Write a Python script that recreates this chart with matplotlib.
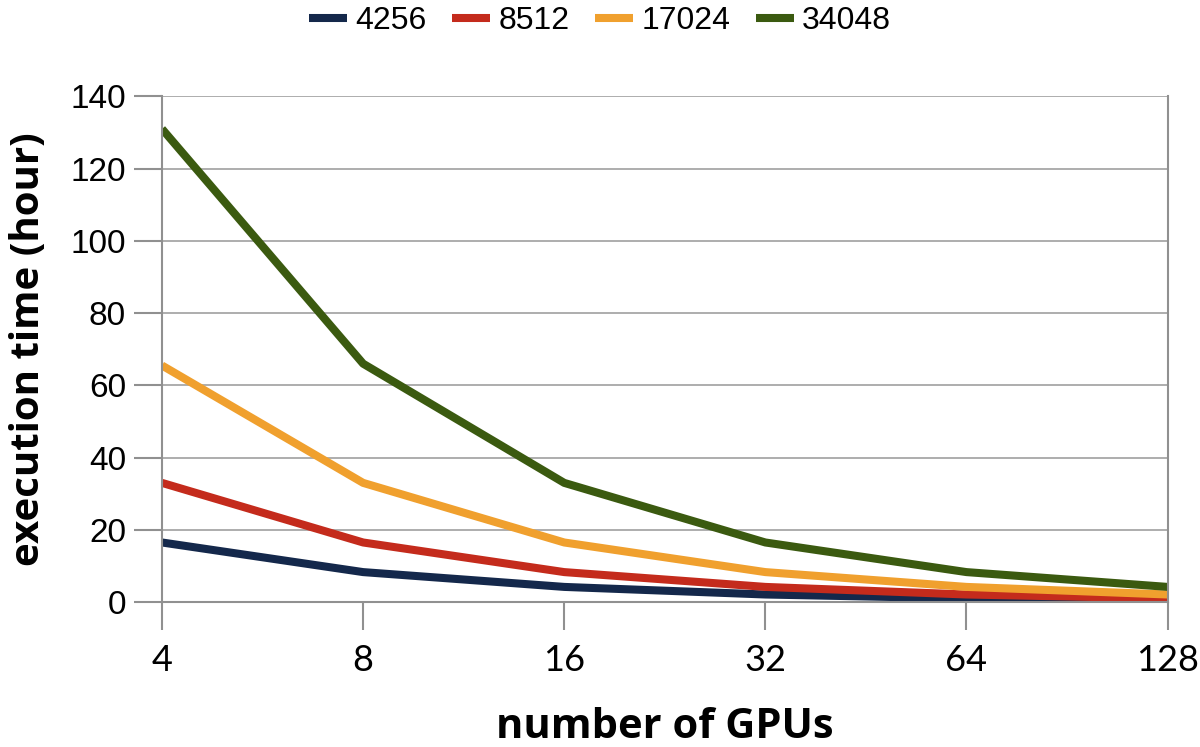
import numpy as np
import matplotlib.pyplot as plt

# number of GPUs (categorical, equally spaced)
gpus = ['4', '8', '16', '32', '64', '128']

# execution time in hours for each problem size
t_4256 = [16.5, 8.3, 4.2, 2.1, 1.0, 0.5]
t_8512 = [33.0, 16.5, 8.3, 4.2, 2.1, 1.0]
t_17024 = [65.5, 33.0, 16.5, 8.3, 4.2, 2.1]
t_34048 = [131.0, 66.0, 33.0, 16.5, 8.3, 4.2]

series = [('4256', t_4256, '#14284b'),
          ('8512', t_8512, '#c42b1c'),
          ('17024', t_17024, '#f0a02e'),
          ('34048', t_34048, '#3b5a10')]

fig = plt.figure(figsize=(12, 7.47), dpi=100)
ax = fig.add_axes([0.135, 0.194, 0.838, 0.677])

x = np.arange(len(gpus))
for name, vals, col in series:
    ax.plot(x, vals, color=col, lw=5.8, label=name, solid_capstyle='butt')

ax.set_xlim(0, len(gpus) - 1)
ax.set_ylim(0, 140)
ax.set_yticks(np.arange(0, 141, 20))
ax.set_xticks(x)
ax.set_xticklabels(gpus, family='Lato', fontsize=26)
for lab in ax.get_yticklabels():
    lab.set_family('Liberation Sans')
    lab.set_fontsize(24)

ax.grid(axis='y', color='#a0a0a0', lw=1.2)
ax.set_axisbelow(True)
for s in ['left', 'bottom', 'right']:
    ax.spines[s].set_color('#909090')
    ax.spines[s].set_linewidth(1.5)
ax.spines['top'].set_visible(False)
ax.tick_params(axis='both', color='#909090', width=1.5, length=20)
ax.tick_params(axis='x', pad=10)
ax.tick_params(axis='y', pad=6)

ax.set_xlabel('number of GPUs', family='Open Sans', weight='bold', fontsize=30, labelpad=22)
ax.set_ylabel('execution time (hour)', family='Open Sans', weight='bold', fontsize=29, labelpad=16)

fig.legend(loc='upper center', bbox_to_anchor=(0.5, 1.03), ncol=4, frameon=False,
           prop={'family': 'Liberation Sans', 'size': 23},
           handlelength=1.2, handletextpad=0.25, columnspacing=0.8)

fig.savefig('out.png', dpi=100)
